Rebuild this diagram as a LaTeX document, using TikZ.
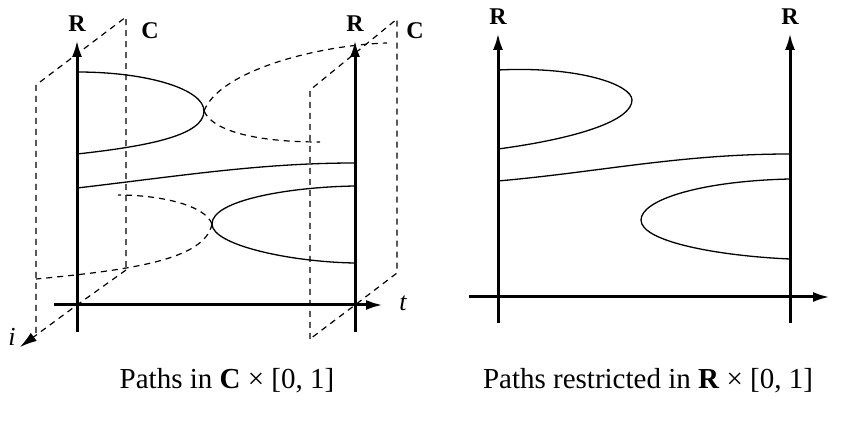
\documentclass[tikz,border=0pt]{standalone}
\usepackage{fontspec}
\setmainfont{Liberation Serif}
\usetikzlibrary{arrows.meta}

\begin{document}
\begin{tikzpicture}[x=0.5pt,y=-0.5pt,
  axis/.style={line width=1.5pt,-{Latex[length=8.5pt,width=5pt]}},
  curve/.style={line width=0.65pt},
  ghost/.style={line width=0.6pt,dash pattern=on 3pt off 2.5pt},
  lbl/.style={font=\fontsize{12}{14}\selectfont\bfseries,inner sep=0pt},
  var/.style={font=\fontsize{13}{15}\selectfont\itshape,inner sep=0pt},
  captxt/.style={font=\fontsize{14.5}{17}\selectfont,inner sep=0pt}]
  \useasboundingbox (0,0) rectangle (842,422);
  % C x [0,1] side
  \coordinate (l0) at (77,305);
  \coordinate (l1) at (355,305);
  % complex planes at t=0 and t=1
  \draw[ghost] (36,333) -- (36,85) -- (126,17) -- (126,270);
  \draw[ghost,-{Latex[length=8.5pt,width=5pt]}] (126,270) -- (l0) -- (20,347);
  \draw[ghost] (310,339) -- (310,90) -- (397,19) -- (397,273) -- (l1) -- (310,339);
  \draw[axis] (77,332) -- (77,40);
  \draw[axis] (355,332) -- (355,40);
  \draw[axis] (54,305) -- (383,305);
  \node[lbl] (rl0) at (77,24) {R};
  \node[lbl] (rl1) at (355,24) {R};
  \node[lbl] (cl0) at (150,31) {C};
  \node[lbl] (cl1) at (415,31) {C};
  \node[var] (tl) at (403,303) {t};
  \node[var] (il) at (12,337) {i};
  % real paths
  \draw[curve] (77,72) .. controls (150,72) and (204,90) .. (204,111)
    .. controls (204,135) and (150,146) .. (77,154);
  \draw[curve] (77,188) .. controls (180,176) and (260,163) .. (355,163);
  \draw[curve] (355,186) .. controls (290,187) and (212,200) .. (212,224)
    .. controls (212,245) and (290,262) .. (355,263);
  % complex continuations
  \draw[ghost] (204,111) .. controls (220,70) and (320,45) .. (387,43);
  \draw[ghost] (204,111) .. controls (215,135) and (270,142) .. (320,142);
  \draw[ghost] (212,224) .. controls (205,205) and (160,195) .. (118,195);
  \draw[ghost] (212,224) .. controls (205,260) and (130,270) .. (36,279);
  \node[captxt] (cap0) at (227,381) {Paths in \textbf{C} × [0, 1]};
  % R x [0,1] side
  \draw[axis] (498,323) -- (498,33);
  \draw[axis] (790,323) -- (790,33);
  \draw[axis] (469,297) -- (830,297);
  \node[lbl] (rr0) at (498,17) {R};
  \node[lbl] (rr1) at (790,17) {R};
  \node[var] (tr) at (845,297) {t};
  \draw[curve] (498,70) .. controls (580,66) and (632,85) .. (632,100)
    .. controls (632,120) and (580,138) .. (498,149);
  \draw[curve] (498,181) .. controls (600,172) and (680,154) .. (790,154);
  \draw[curve] (790,179) .. controls (700,181) and (641,200) .. (641,220)
    .. controls (641,242) and (720,256) .. (790,259);
  \node[captxt] (cap1) at (648,381) {Paths restricted in \textbf{R} × [0, 1]};
\end{tikzpicture}
\end{document}
